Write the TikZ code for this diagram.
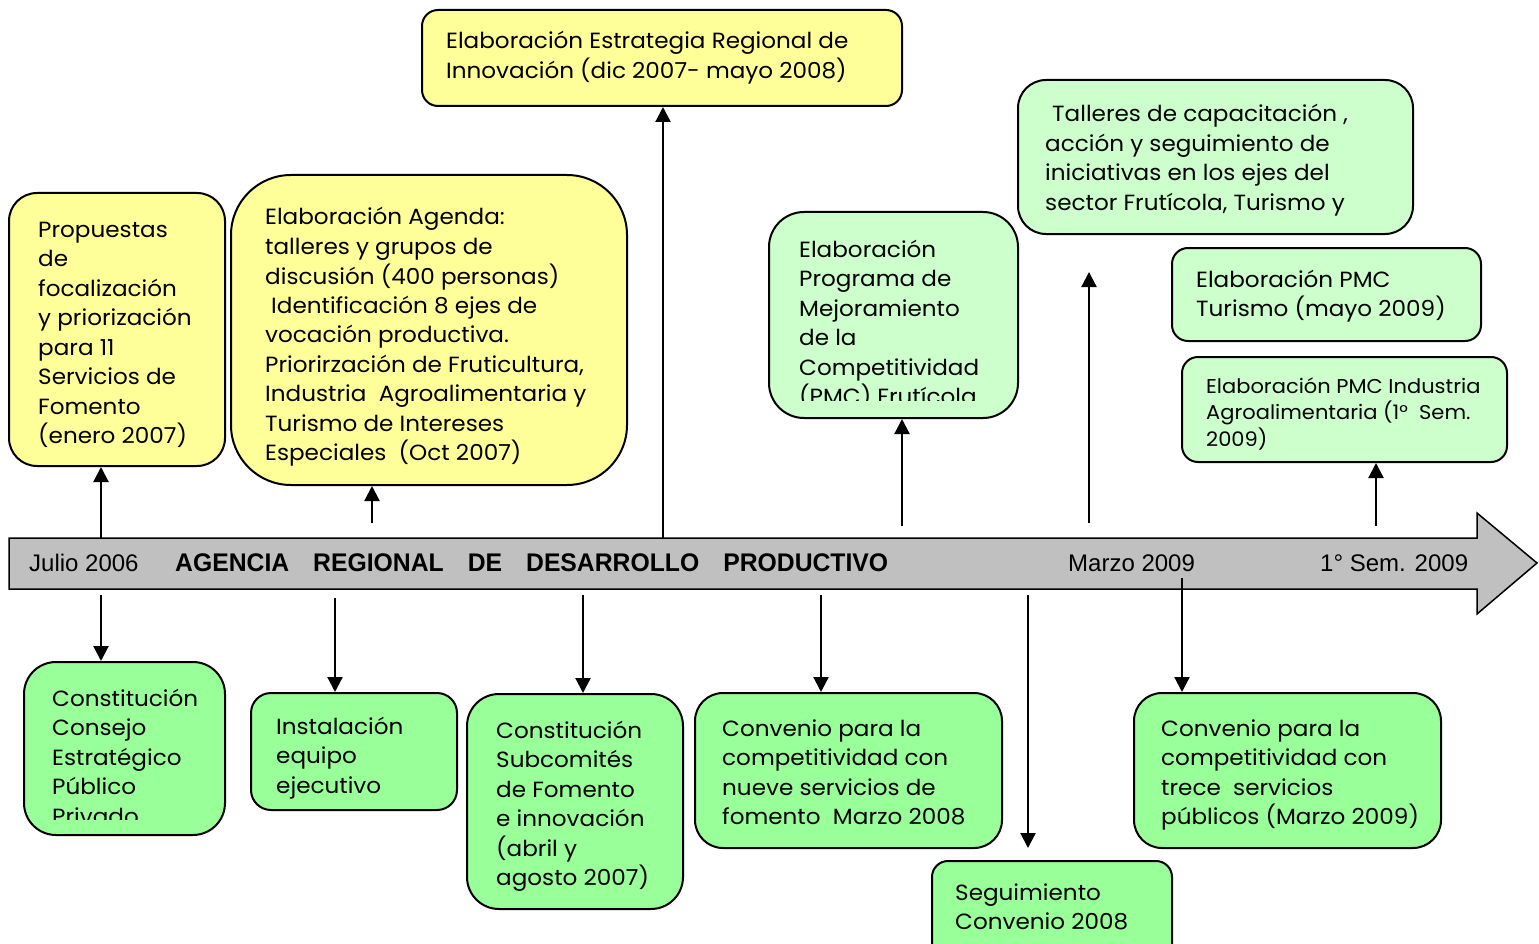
\documentclass[tikz,border=0pt]{standalone}
\usepackage{fontspec}
\setmainfont[FakeStretch=1.05]{Poppins}
\newfontfamily\barfont{Liberation Sans}
\newfontfamily\barbold[FakeStretch=0.97]{Liberation Sans}
\usetikzlibrary{arrows.meta}
\definecolor{yel}{RGB}{255,255,153}
\definecolor{lgr}{RGB}{204,255,204}
\definecolor{gre}{RGB}{153,255,153}
\definecolor{barg}{RGB}{192,192,192}
\newcommand{\mytxt}[1]{\begin{tabular}[t]{@{}l@{}}#1\end{tabular}}
\tikzset{
  box/.style={draw=black, line width=2pt, inner sep=0pt},
  ybox/.style={box, fill=yel},
  lbox/.style={box, fill=lgr},
  gbox/.style={box, fill=gre},
  txt/.style={anchor=base west, inner sep=0pt, font=\fontsize{22}{29.5}\selectfont},
  stxt/.style={anchor=base west, inner sep=0pt, font=\fontsize{20}{26.5}\selectfont},
  arr/.style={line width=2.2pt, -{Triangle[length=15pt,width=15pt]}},
  bartxt/.style={anchor=base west, inner sep=0pt, font=\barfont\fontsize{24}{28}\selectfont},
}
\begin{document}
\begin{tikzpicture}[x=1pt,y=-1pt]
\clip (0,0) rectangle (1539,944);
\fill[white] (0,0) rectangle (1539,944);
% timeline bar
\draw[fill=barg, line width=1.5pt] (9,538) -- (1477,538) -- (1477,513) -- (1537,563) -- (1477,614) -- (1477,589) -- (9,589) -- cycle;
\node[bartxt] (l1) at (29,571) {Julio 2006};
\node[bartxt, font=\barbold\bfseries\fontsize{25.5}{28}\selectfont] (l2) at (175,571) {AGENCIA\hspace{24pt}REGIONAL\hspace{24pt}DE\hspace{24pt}DESARROLLO\hspace{24pt}PRODUCTIVO};
\node[bartxt] (l3) at (1068,571) {Marzo 2009};
\node[bartxt] (l4) at (1320,571) {1° Sem. 2009};
% top boxes
\node[ybox, minimum width=216pt, minimum height=273pt, rounded corners=28pt] (b1) at (117,329.5) {};
\node[txt] (t1) at (38,237) {\mytxt{Propuestas\\de\\focalización\\y priorización\\para 11\\Servicios de\\Fomento\\(enero 2007)}};
\node[ybox, minimum width=396pt, minimum height=310pt, rounded corners=60pt] (b2) at (429,330) {};
\node[txt] (t2) at (265,225) {\mytxt{Elaboración Agenda:\\talleres y grupos de\\discusión (400 personas)\\\hspace*{6pt}Identificación 8 ejes de\\vocación productiva.\\Priorirzación de Fruticultura,\\Industria\ \ Agroalimentaria y\\Turismo de Intereses\\Especiales\ \ (Oct 2007)}};
\node[ybox, minimum width=480pt, minimum height=96pt, rounded corners=16pt] (b3) at (662,58) {};
\node[txt] (t3) at (446,49) {\mytxt{Elaboración Estrategia Regional de\\Innovación (dic 2007- mayo 2008)}};
\node[lbox, minimum width=249pt, minimum height=206pt, rounded corners=35pt] (b4) at (893.5,315) {};
\begin{scope}
\clip (769,212) rectangle (1018,400);
\node[txt] (t4) at (799,257) {\mytxt{Elaboración\\Programa de\\Mejoramiento\\de la\\Competitividad\\(PMC) Frutícola}};
\end{scope}
\node[lbox, minimum width=395pt, minimum height=154pt, rounded corners=28pt] (b5) at (1215.5,157) {};
\node[txt] (t5) at (1045,122) {\mytxt{\hspace*{7pt}Talleres de capacitación ,\\acción y seguimiento de\\iniciativas en los ejes del\\sector Frutícola, Turismo y}};
\node[lbox, minimum width=309pt, minimum height=93pt, rounded corners=16pt] (b6) at (1326.5,294.5) {};
\node[txt] (t6) at (1196,287) {\mytxt{Elaboración PMC\\Turismo (mayo 2009)}};
\node[lbox, minimum width=325pt, minimum height=105pt, rounded corners=16pt] (b7) at (1344.5,409.5) {};
\node[stxt] (t7) at (1206,393) {\mytxt{Elaboración PMC Industria\\Agroalimentaria (1°\ \ Sem.\\2009)}};
% bottom boxes
\node[gbox, minimum width=201pt, minimum height=173pt, rounded corners=32pt] (b8) at (124.5,748.5) {};
\begin{scope}
\clip (24,662) rectangle (225,819);
\node[txt] (t8) at (52,706) {\mytxt{Constitución\\Consejo\\Estratégico\\Público\\Privado}};
\end{scope}
\node[gbox, minimum width=206pt, minimum height=117pt, rounded corners=20pt] (b9) at (354,751.5) {};
\node[txt] (t9) at (276,734) {\mytxt{Instalación\\equipo\\ejecutivo}};
\node[gbox, minimum width=216pt, minimum height=215pt, rounded corners=32pt] (b10) at (575,801.5) {};
\node[txt] (t10) at (496,738) {\mytxt{Constitución\\Subcomités\\de Fomento\\e innovación\\(abril y\\agosto 2007)}};
\node[gbox, minimum width=307pt, minimum height=155pt, rounded corners=28pt] (b11) at (848.5,770.5) {};
\node[txt] (t11) at (722,736) {\mytxt{Convenio para la\\competitividad con\\nueve servicios de\\fomento\ \ Marzo 2008}};
\node[gbox, minimum width=240pt, minimum height=119pt, rounded corners=16pt] (b12) at (1052,920.5) {};
\node[txt] (t12) at (955,900) {\mytxt{Seguimiento\\Convenio 2008}};
\node[gbox, minimum width=307pt, minimum height=155pt, rounded corners=28pt] (b13) at (1287.5,770.5) {};
\node[txt] (t13) at (1161,736) {\mytxt{Convenio para la\\competitividad con\\trece\ \ servicios\\públicos (Marzo 2009)}};
% arrow anchors
\coordinate (u1) at (101,538);
\coordinate (u2) at (372,523);
\coordinate (u3) at (663,538);
\coordinate (u4) at (902,526);
\coordinate (u5) at (1089,523);
\coordinate (u5e) at (1089,272);
\coordinate (u6) at (1376,526);
\coordinate (d1) at (101,595);
\coordinate (d2) at (335,598);
\coordinate (d3) at (583,595);
\coordinate (d4) at (821,595);
\coordinate (d5) at (1028,595);
\coordinate (d5e) at (1028,848);
\coordinate (d6) at (1182,578);
\draw[arr] (u1) -- (u1 |- b1.south);
\draw[arr] (u2) -- (u2 |- b2.south);
\draw[arr] (u3) -- (u3 |- b3.south);
\draw[arr] (u4) -- (u4 |- b4.south);
\draw[arr] (u5) -- (u5e);
\draw[arr] (u6) -- (u6 |- b7.south);
\draw[arr] (d1) -- (d1 |- b8.north);
\draw[arr] (d2) -- (d2 |- b9.north);
\draw[arr] (d3) -- (d3 |- b10.north);
\draw[arr] (d4) -- (d4 |- b11.north);
\draw[arr] (d5) -- (d5e);
\draw[arr] (d6) -- (d6 |- b13.north);
\end{tikzpicture}
\end{document}
